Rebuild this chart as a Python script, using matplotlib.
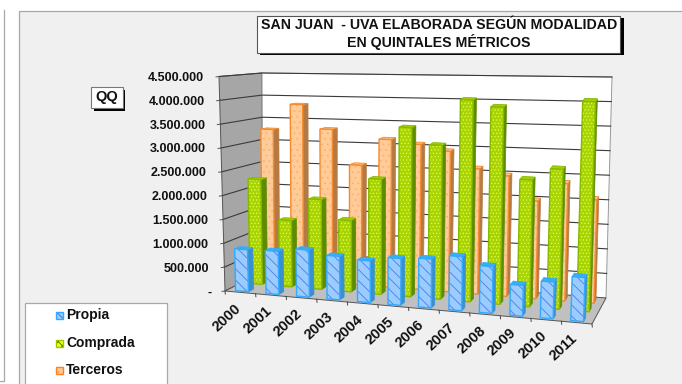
import matplotlib
matplotlib.use("Agg")
import matplotlib.pyplot as plt
from matplotlib.patches import Polygon, Rectangle

plt.rcParams['font.family'] = ['Liberation Sans', 'DejaVu Sans']
plt.rcParams['hatch.linewidth'] = 0.6

years = ['2000','2001','2002','2003','2004','2005','2006','2007','2008','2009','2010','2011']
propia = [880000,900000,980000,900000,860000,960000,1000000,1100000,950000,620000,740000,880000]
comprada = [2260000,1420000,1910000,1510000,2420000,3540000,3200000,4170000,4050000,2590000,2840000,4240000]
terceros = [3280000,3850000,3330000,2580000,3160000,3080000,2960000,2620000,2500000,2010000,2400000,2100000]
yticks = [0,500000,1000000,1500000,2000000,2500000,3000000,3500000,4000000,4500000]
ylabels = ['-','500.000','1.000.000','1.500.000','2.000.000','2.500.000','3.000.000','3.500.000','4.000.000','4.500.000']
title = "SAN JUAN  - UVA ELABORADA SEGÚN MODALIDAD\nEN QUINTALES MÉTRICOS"
VMAX = 4500000
N = len(years)

# Box corners of the 3D chart, in image pixels
FBL, FBR, BBL, BBR = (225,291), (592,324), (263,272), (606,298)
FTL, FTR, BTL, BTR = (219,76.5), (600,99), (262,73), (612,77)

def P(u, v, w):
    a, b, c = u/N, v/VMAX, w
    out = []
    for i in range(2):
        out.append((1-c)*((1-b)*((1-a)*FBL[i]+a*FBR[i]) + b*((1-a)*FTL[i]+a*FTR[i]))
                   + c*((1-b)*((1-a)*BBL[i]+a*BBR[i]) + b*((1-a)*BTL[i]+a*BTR[i])))
    return tuple(out)

fig = plt.figure(figsize=(6.82,3.84), dpi=100, facecolor='white')
ax = fig.add_axes([0,0,1,1])
ax.set_xlim(0,682); ax.set_ylim(384,0); ax.axis('off')

# Panels
ax.add_patch(Rectangle((18.5,10.5),680,380,fc='#F0F0F0',ec='#A8A8A8',lw=0.9,zorder=0))
ax.plot([-1,3.5,3.5],[380.5,380.5,10],color='#A8A8A8',lw=0.9,zorder=0)

# Walls and floor
ax.add_patch(Polygon([FTL,BTL,BBL,FBL],fc='#A6A6A6',ec='#555555',lw=0.7,zorder=1))
ax.add_patch(Polygon([BTL,BTR,BBR,BBL],fc='white',ec='#999999',lw=0.7,zorder=1))
ax.add_patch(Polygon([FBL,FBR,BBR,BBL],fc='#C0C0C0',ec='#555555',lw=0.7,zorder=1))

for t,l in zip(yticks,ylabels):
    a,b,c = P(0,t,0),P(0,t,1),P(N,t,1)
    if t>0:
        ax.plot([a[0],b[0],c[0]],[a[1],b[1],c[1]],color='#3A3A3A',lw=0.8,zorder=2)
    ax.plot([a[0]-3,a[0]],[a[1]+0.4,a[1]],color='#555555',lw=0.7,zorder=2)
    ax.text(a[0]-15 if t else a[0]-13.5,a[1]+1.5,l,ha='right',va='center',fontsize=9,fontweight='bold',color='#111111')

for i in range(N+1):
    a = P(i,0,0)
    ax.plot([a[0],a[0]+0.3],[a[1],a[1]+3],color='#444444',lw=0.7,zorder=2)
for i,y in enumerate(years):
    a = P(i+.5,0,0)
    ax.text(a[0]-13.5,a[1]+25,y,rotation=43,
            ha='center',va='center',fontsize=10.6,fontweight='bold',color='#111111')

# Bars
def bar(i, val, w0, w1, face, hatchc, hatch, edge, side, top, z):
    u0,u1 = i+.5-.225, i+.5+.195
    front = [P(u0,0,w0),P(u1,0,w0),P(u1,val,w0),P(u0,val,w0)]
    sidep = [P(u1,0,w0),P(u1,0,w1),P(u1,val,w1),P(u1,val,w0)]
    topp = [P(u0,val,w0),P(u1,val,w0),P(u1,val,w1),P(u0,val,w1)]
    ax.add_patch(Polygon(sidep,fc=side,ec=side,lw=0.5,zorder=z))
    ax.add_patch(Polygon(topp,fc=top,ec=edge,lw=0.6,zorder=z))
    ax.add_patch(Polygon(front,fc=face,ec=hatchc,hatch=hatch,lw=0,zorder=z))
    ax.add_patch(Polygon(front,fill=False,ec=edge,lw=1.0,zorder=z))

for i,v in enumerate(terceros):
    bar(i,v,.77,.91,'#FFCC99','#FBB36B','...','#F58A2E','#B57A44','#FFC080',3)
for i,v in enumerate(comprada):
    bar(i,v,.44,.58,'#A8D400','#DDF55A','.....','#86B800','#5E8C00','#A5D000',4)
for i,v in enumerate(propia):
    bar(i,v,.06,.20,'#99CCFF','#5577EE','\\\\\\','#33AAFF','#3A8FD0','#33B0F5',5)

# Title box
ax.add_patch(Rectangle((260,18),363.5,37,fc='black',ec='black',lw=0,zorder=6))
ax.add_patch(Rectangle((256.5,15.5),363.5,37,fc='white',ec='#555555',lw=0.8,zorder=7))
ax.text(439,34,title,ha='center',va='center',fontsize=10.2,fontweight='bold',
        linespacing=1.08,color='#111111',zorder=8)

# QQ box
ax.add_patch(Rectangle((93.5,89.5),31,21.5,fc='black',ec='black',lw=0,zorder=6))
ax.add_patch(Rectangle((90.5,86.5),32,21.5,fc='white',ec='#777777',lw=0.8,zorder=7))
ax.text(106.5,97.5,'QQ',ha='center',va='center',fontsize=10.5,fontweight='bold',color='#111111',zorder=8)

# Legend
ax.add_patch(Rectangle((24.5,302.5),142,90,fc='white',ec='#A8A8A8',lw=0.9,zorder=6))
entries = [('Propia','#33AAFF','#99CCFF','#3366EE','\\\\\\',315),
           ('Comprada','#A0C800','#FFFF00','#008000','xxxx',343),
           ('Terceros','#FF7F27','#FFCC99','#FF9933','...',370)]
for name,edge,face,hc,h,y in entries:
    ax.add_patch(Rectangle((55.5,y-3.5),7.5,7.5,fc=face,ec=hc,hatch=h,lw=0,zorder=7))
    ax.add_patch(Rectangle((55.5,y-3.5),7.5,7.5,fill=False,ec=edge,lw=1,zorder=7))
    ax.text(66,y+0.5,name,ha='left',va='center',fontsize=10,fontweight='bold',color='#111111',zorder=8)

fig.savefig('out.png',dpi=100,facecolor='white')
